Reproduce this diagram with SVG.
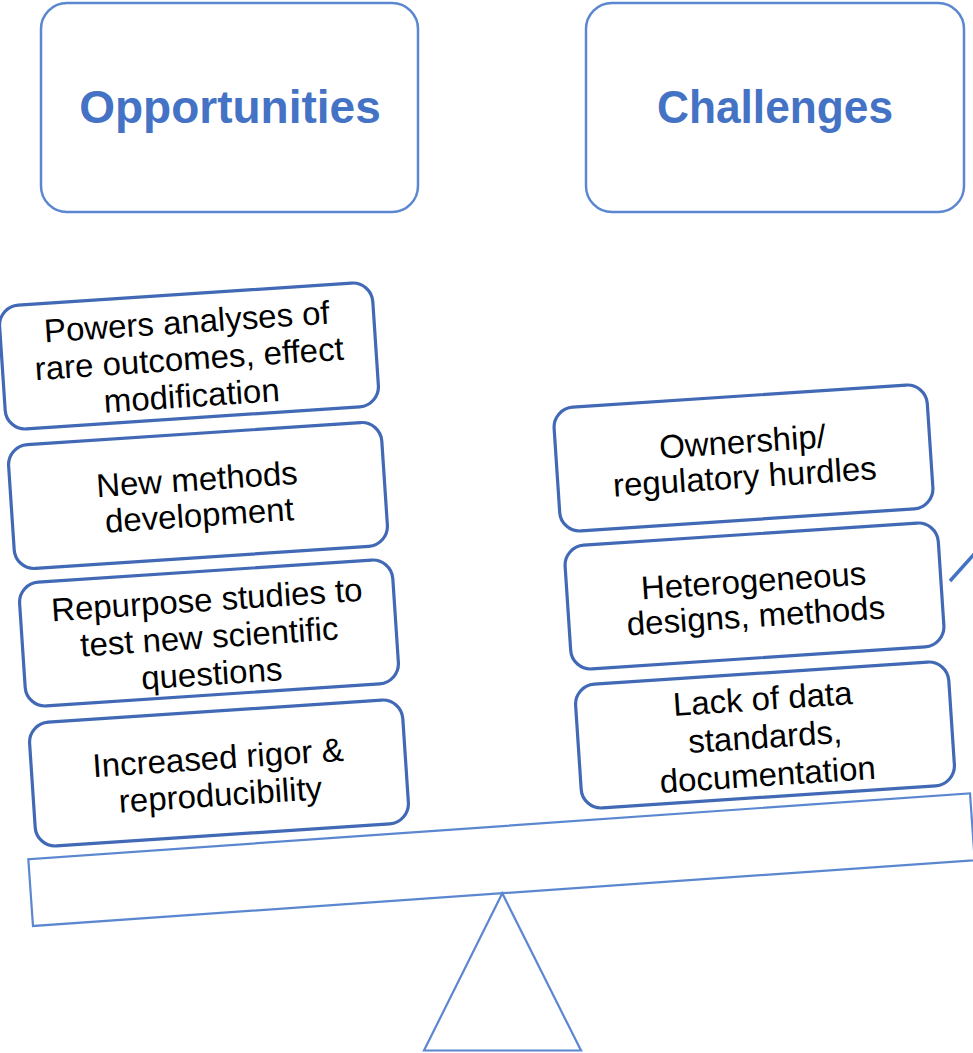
<svg xmlns="http://www.w3.org/2000/svg" width="973" height="1053" viewBox="0 0 973 1053">
  <style>
    .header rect { fill: #ffffff; stroke: #5B87D0; stroke-width: 2.5; }
    .header text { font-family: "Liberation Sans", Arial, sans-serif; font-weight: bold; font-size: 46px; fill: #4472C4; text-anchor: middle; }
    .item rect { fill: #ffffff; stroke: #4169B5; stroke-width: 3.2; }
    .item text { font-family: "Liberation Sans", Arial, sans-serif; font-size: 33px; fill: #000000; text-anchor: middle; }
    .scale { fill: none; stroke: #5B87D0; stroke-width: 2.2; }
  </style>
  <rect width="973" height="1053" fill="#ffffff"/>

  <!-- column headers -->
  <g id="opportunities" class="header">
    <rect x="41" y="3" width="377" height="209" rx="26"/>
    <text x="230" y="123">Opportunities</text>
  </g>
  <g id="challenges" class="header">
    <rect x="586" y="3" width="378" height="209" rx="26"/>
    <text x="775" y="123" textLength="236" lengthAdjust="spacingAndGlyphs">Challenges</text>
  </g>

  <!-- balance: beam and fulcrum -->
  <g id="beam">
    <rect class="scale" x="-472" y="-33.5" width="944" height="67" transform="translate(501.5,859.7) rotate(-4)"/>
  </g>
  <g id="fulcrum">
    <polygon class="scale" points="502.3,893.3 581,1050.5 424,1050.5" stroke-width="2.8"/>
  </g>

  <!-- opportunities stack (left pan) -->
  <g id="opp-powers" class="item" transform="translate(189,356) rotate(-3.8)">
    <rect x="-187" y="-62" width="374" height="124" rx="20"/>
    <text x="0" y="-23">Powers analyses of</text>
    <text x="0" y="14">rare outcomes, effect</text>
    <text x="0" y="51">modification</text>
  </g>
  <g id="opp-methods" class="item" transform="translate(198,495.5) rotate(-3.8)">
    <rect x="-187" y="-62" width="374" height="124" rx="20"/>
    <text x="0" y="-5">New methods</text>
    <text x="0" y="31">development</text>
  </g>
  <g id="opp-repurpose" class="item" transform="translate(209,633) rotate(-3.8)">
    <rect x="-187" y="-62" width="374" height="124" rx="20"/>
    <text x="0" y="-22">Repurpose studies to</text>
    <text x="0" y="15">test new scientific</text>
    <text x="0" y="52">questions</text>
  </g>
  <g id="opp-rigor" class="item" transform="translate(219,773) rotate(-3.8)">
    <rect x="-187" y="-62" width="374" height="124" rx="20"/>
    <text x="0" y="-4">Increased rigor &amp;</text>
    <text x="0" y="33">reproducibility</text>
  </g>

  <!-- challenges stack (right pan) -->
  <g id="ch-ownership" class="item" transform="translate(743.5,458) rotate(-3.8)">
    <rect x="-187" y="-62" width="374" height="124" rx="20"/>
    <text x="0" y="-5">Ownership/</text>
    <text x="0" y="30">regulatory hurdles</text>
  </g>
  <g id="ch-heterogeneous" class="item" transform="translate(754.5,596) rotate(-3.8)">
    <rect x="-187" y="-62" width="374" height="124" rx="20"/>
    <text x="0" y="-4">Heterogeneous</text>
    <text x="0" y="31">designs, methods</text>
  </g>
  <g id="ch-standards" class="item" transform="translate(765,735) rotate(-3.8)">
    <rect x="-187" y="-62" width="374" height="124" rx="20"/>
    <text x="0" y="-25">Lack of data</text>
    <text x="0" y="13">standards,</text>
    <text x="0" y="51">documentation</text>
  </g>

  <!-- connectors -->
  <g id="connectors">
    <line x1="950" y1="581" x2="985" y2="542" stroke="#4472C4" stroke-width="3.5"/>
  </g>
</svg>
